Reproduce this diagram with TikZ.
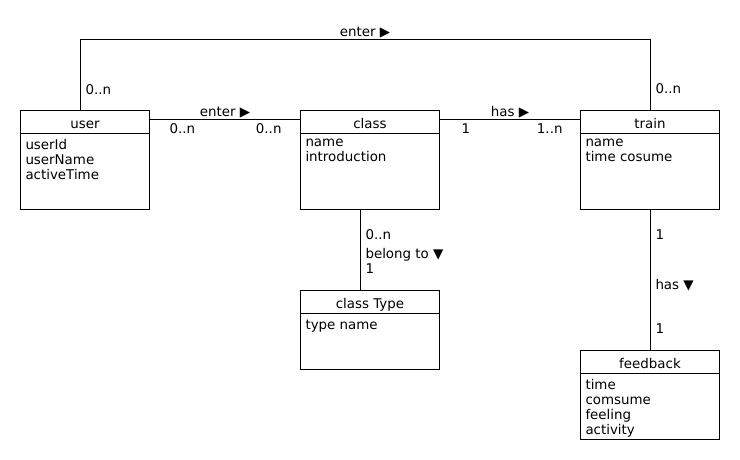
\documentclass[tikz,border=0pt]{standalone}
\usepackage{fontspec}
\setmainfont{DejaVu Sans}
\usetikzlibrary{positioning}

\tikzset{
  umlbox/.style={draw, anchor=north west, inner sep=0pt, minimum width=139pt},
  umlhead/.style={draw, anchor=north west, inner sep=0pt, minimum width=139pt,
    minimum height=23pt, text height=12.5pt, text depth=0pt},
  umlattr/.style={anchor=north west, inner sep=0pt, align=left,
    execute at begin node=\strut},
  mult/.style={anchor=base west, inner sep=0pt},
  assoc/.style={anchor=base, inner sep=0pt, yshift=3.5pt}
}

\begin{document}
\begin{tikzpicture}[x=1pt, y=-1pt, line width=1pt, font=\fontsize{13.4}{15}\selectfont]
  \useasboundingbox (0,0) rectangle (740,460);

  % classes
  \node[umlbox, minimum width=129pt, minimum height=99pt] (user) at (20,110) {};
  \node[umlhead, minimum width=129pt] (user-h) at (user.north west) {user};
  \node[umlattr] (user-a) at ([xshift=5pt, yshift=-4.5pt]user-h.south west) {userId\\userName\\activeTime};

  \node[umlbox, minimum height=99pt] (class) at (300,110) {};
  \node[umlhead] (class-h) at (class.north west) {class};
  \node[umlattr] (class-a) at ([xshift=5pt, yshift=-4.5pt]class-h.south west) {name\\introduction};

  \node[umlbox, minimum height=99pt] (train) at (580,110) {};
  \node[umlhead] (train-h) at (train.north west) {train};
  \node[umlattr] (train-a) at ([xshift=5pt, yshift=-4.5pt]train-h.south west) {name\\time cosume};

  \node[umlbox, minimum height=79pt] (ctype) at (300,290) {};
  \node[umlhead] (ctype-h) at (ctype.north west) {class Type};
  \node[umlattr] (ctype-a) at ([xshift=5pt, yshift=-4.5pt]ctype-h.south west) {type name};

  \node[umlbox, minimum height=89pt] (feedback) at (580,350) {};
  \node[umlhead] (feedback-h) at (feedback.north west) {feedback};
  \node[umlattr] (feedback-a) at ([xshift=5pt, yshift=-4.5pt]feedback-h.south west) {time\\comsume\\feeling\\activity};

  % associations
  \draw ([xshift=60pt]user.north west)
    -- node[mult, pos=0, xshift=5pt, yshift=15pt] {0..n} ++(0,-70)
    -| node[assoc, pos=0.25] {enter ▶}
       node[mult, pos=1, xshift=5pt, yshift=16pt] {0..n}
    ([xshift=70pt]train.north west);

  \draw ([yshift=-10pt]user.north east)
    -- node[assoc] {enter ▶}
       node[mult, pos=0, xshift=19pt, yshift=-14pt] {0..n}
       node[mult, pos=1, anchor=base east, xshift=-18pt, yshift=-14pt] {0..n}
    ([yshift=-10pt]class.north west);

  \draw ([yshift=-10pt]class.north east)
    -- node[assoc] {has ▶}
       node[mult, pos=0, xshift=21pt, yshift=-14pt] {1}
       node[mult, pos=1, anchor=base east, xshift=-17pt, yshift=-14pt] {1..n}
    ([yshift=-10pt]train.north west);

  \draw ([xshift=60pt]class.south west)
    -- node[mult, pos=0, xshift=5pt, yshift=-29pt] {0..n}
       node[mult, pos=0, xshift=5pt, yshift=-48pt] {belong to ▼}
       node[mult, pos=1, xshift=5pt, yshift=17pt] {1}
    ([xshift=60pt]ctype.north west);

  \draw ([xshift=70pt]train.south west)
    -- node[mult, pos=0, xshift=5pt, yshift=-29pt] {1}
       node[mult, pos=0, xshift=5pt, yshift=-79pt] {has ▼}
       node[mult, pos=1, xshift=5pt, yshift=17pt] {1}
    ([xshift=70pt]feedback.north west);
\end{tikzpicture}
\end{document}
